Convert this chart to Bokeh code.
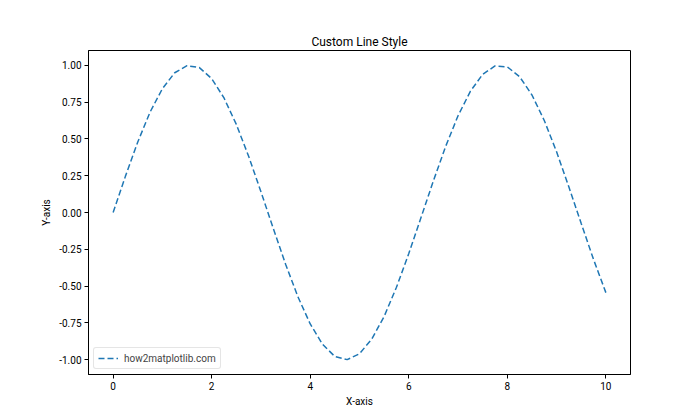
from bokeh.plotting import figure
from bokeh.models import FixedTicker, NumeralTickFormatter, Range1d, Legend, LegendItem
from bokeh.embed import file_html
from bokeh.resources import INLINE

x_vals = [0.0, 0.25, 0.5, 0.75, 1.0, 1.25, 1.5, 1.75, 2.0, 2.25, 2.5, 2.75, 3.0, 3.25,
          3.5, 3.75, 4.0, 4.25, 4.5, 4.75, 5.0, 5.25, 5.5, 5.75, 6.0, 6.25, 6.5, 6.75,
          7.0, 7.25, 7.5, 7.75, 8.0, 8.25, 8.5, 8.75, 9.0, 9.25, 9.5, 9.75, 10.0]
y_vals = [0.0, 0.247, 0.479, 0.682, 0.841, 0.949, 0.997, 0.984, 0.909, 0.778, 0.598,
          0.382, 0.141, -0.108, -0.351, -0.572, -0.757, -0.895, -0.978, -0.999, -0.959,
          -0.859, -0.706, -0.508, -0.279, -0.033, 0.215, 0.450, 0.657, 0.823, 0.938,
          0.995, 0.989, 0.922, 0.798, 0.625, 0.412, 0.173, -0.075, -0.319, -0.544]
x_ticks = [0, 2, 4, 6, 8, 10]
y_ticks = [-1.0, -0.75, -0.5, -0.25, 0.0, 0.25, 0.5, 0.75, 1.0]

FONT = "Roboto"

p = figure(width=700, height=420, output_backend="svg", toolbar_location=None,
           x_range=Range1d(-0.5, 10.5), y_range=Range1d(-1.1, 1.1),
           min_border_left=88, min_border_right=70, min_border_top=50, min_border_bottom=46,
           title="Custom Line Style")
p.title.align = "center"
p.title.text_font = FONT
p.title.text_font_size = "12px"
p.title.text_font_style = "normal"
p.title.text_color = "black"
p.title.standoff = 4

r = p.line(x_vals, y_vals, line_color="#1f77b4", line_width=1.5, line_dash="6 3")

p.xgrid.visible = False
p.ygrid.visible = False
p.outline_line_color = "black"
p.outline_line_width = 1
p.background_fill_color = "white"
p.border_fill_color = "white"

for ax in (p.xaxis[0], p.yaxis[0]):
    ax.axis_line_color = "black"
    ax.major_tick_in = 0
    ax.major_tick_out = 4
    ax.minor_tick_line_color = None
    ax.major_label_text_font = FONT
    ax.major_label_text_font_size = "10px"
    ax.major_label_text_color = "black"
    ax.axis_label_text_font = FONT
    ax.axis_label_text_font_size = "10px"
    ax.axis_label_text_font_style = "normal"
    ax.axis_label_text_color = "black"
    ax.major_label_standoff = 3

p.xaxis[0].ticker = FixedTicker(ticks=x_ticks)
p.yaxis[0].ticker = FixedTicker(ticks=y_ticks)
p.yaxis[0].formatter = NumeralTickFormatter(format="0.00")
p.xaxis[0].axis_label = "X-axis"
p.yaxis[0].axis_label = "Y-axis"
p.xaxis[0].axis_label_standoff = 3
p.yaxis[0].axis_label_standoff = 4

legend = Legend(items=[LegendItem(label="how2matplotlib.com", renderers=[r])],
                location="bottom_left")
legend.label_text_font = FONT
legend.label_text_font_size = "10px"
legend.border_line_color = "#cccccc"
legend.border_line_width = 1
legend.border_radius = 3
legend.glyph_width = 20
legend.glyph_height = 12
legend.padding = 4
legend.spacing = 0
legend.margin = 5
legend.label_standoff = 6
legend.label_height = 12
p.add_layout(legend)

open("out.html", "w").write(file_html(p, INLINE))
